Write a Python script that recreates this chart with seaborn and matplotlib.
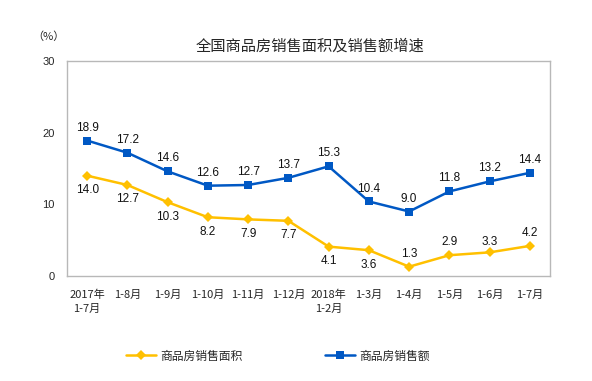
import matplotlib
matplotlib.use("Agg")
import numpy as np
import pandas as pd
import matplotlib.pyplot as plt
import seaborn as sns

periods = ["2017年\n1-7月", "1-8月", "1-9月", "1-10月", "1-11月", "1-12月",
           "2018年\n1-2月", "1-3月", "1-4月", "1-5月", "1-6月", "1-7月"]
area_growth = [14.0, 12.7, 10.3, 8.2, 7.9, 7.7, 4.1, 3.6, 1.3, 2.9, 3.3, 4.2]
sales_growth = [18.9, 17.2, 14.6, 12.6, 12.7, 13.7, 15.3, 10.4, 9.0, 11.8, 13.2, 14.4]

area_name = "商品房销售面积"
sales_name = "商品房销售额"

sns.set_style("white")
plt.rcParams["font.family"] = ["Noto Sans CJK SC", "DejaVu Sans"]

df = pd.DataFrame({"x": np.arange(len(periods)),
                   area_name: area_growth,
                   sales_name: sales_growth})

fig = plt.figure(figsize=(5.92, 3.81), dpi=100)
ax = fig.add_axes([67 / 592, 1 - 276 / 381, (550 - 67) / 592, (276 - 61) / 381])

yellow = "#FFC000"
blue = "#0058C4"
sns.lineplot(data=df, x="x", y=area_name, ax=ax, color=yellow, lw=1.8,
             marker="D", markersize=5, markeredgewidth=0, label=area_name)
sns.lineplot(data=df, x="x", y=sales_name, ax=ax, color=blue, lw=1.8,
             marker="s", markersize=5.5, markeredgewidth=0, label=sales_name)

num_font = dict(family=["Liberation Sans", "DejaVu Sans"], fontsize=8.5, color="#111111")
for i, v in enumerate(sales_growth):
    ax.annotate(f"{v:.1f}", (i, v), xytext=(0, 5), textcoords="offset points",
                ha="center", va="bottom", **num_font)

# last four area labels sit above the line in the source chart
above_from = 8
for i, v in enumerate(area_growth):
    above = i >= above_from
    dy = 3 if i == 10 else 5
    ax.annotate(f"{v:.1f}", (i, v), xytext=(0, dy if above else -6),
                textcoords="offset points", ha="center",
                va="bottom" if above else "top", **num_font)

ax.set_xlim(-0.5, len(periods) - 0.5)
ax.set_ylim(0, 30)
ax.set_yticks([0, 10, 20, 30])
ax.set_yticklabels(["0", "10", "20", "30"], family=["Liberation Sans", "DejaVu Sans"],
                   fontsize=8)
ax.set_xticks(np.arange(len(periods)))
ax.set_xticklabels(periods, fontsize=8, linespacing=1.5)
ax.set_xticks(np.arange(len(periods) + 1) - 0.5, minor=True)
ax.tick_params(axis="x", which="major", length=0, pad=10)
ax.tick_params(axis="x", which="minor", direction="in", length=4, color="#b0b0b0")
ax.tick_params(axis="y", direction="in", length=4, color="#b0b0b0", pad=9)
ax.set_xlabel("")
ax.set_ylabel("")
for s in ax.spines.values():
    s.set_color("#b8b8b8")
    s.set_linewidth(1)

fig.text(48 / 592, 1 - 37 / 381, "（%）", fontsize=8, ha="center", va="center")
fig.text(310 / 592, 1 - 46 / 381, "全国商品房销售面积及销售额增速", fontsize=11,
         ha="center", va="center")

ax.legend(loc="center", bbox_to_anchor=(278 / 592, 1 - 356 / 381),
          bbox_transform=fig.transFigure, ncol=2, frameon=False, fontsize=8.5,
          columnspacing=7, handlelength=2.5, handletextpad=0.4)

fig.savefig("out.png", dpi=100)
